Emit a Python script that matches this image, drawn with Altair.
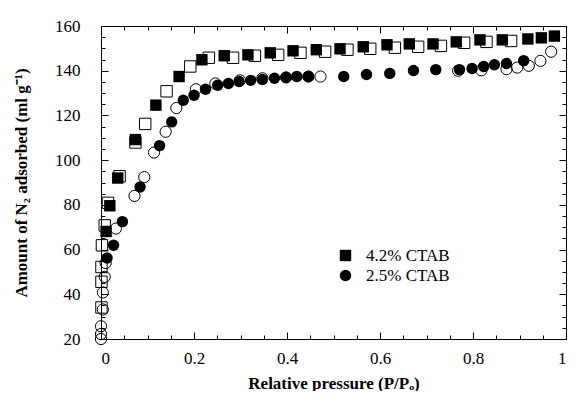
import altair as alt
import pandas as pd

# ---- data ----
sample_names = ["4.2% CTAB", "2.5% CTAB"]

# 4.2% CTAB, adsorption (filled squares)
ads42_p = [0.011, 0.019, 0.036, 0.074, 0.118, 0.168, 0.217, 0.265, 0.316, 0.364, 0.413,
           0.463, 0.514, 0.564, 0.615, 0.663, 0.714, 0.764, 0.815, 0.863, 0.918, 0.947, 0.975]
ads42_v = [68.1, 79.6, 92.0, 109.2, 124.6, 137.4, 144.9, 146.7, 147.1, 148.0, 148.9,
           149.4, 149.8, 150.7, 151.6, 152.0, 152.0, 152.9, 153.8, 153.8, 154.2, 154.7, 155.5]

# 4.2% CTAB, desorption (open squares)
des42_p = [0.001, 0.001, 0.001, 0.002, 0.008, 0.015, 0.040, 0.074, 0.095, 0.141, 0.192,
           0.232, 0.284, 0.331, 0.381, 0.429, 0.482, 0.530, 0.579, 0.632, 0.682, 0.731,
           0.781, 0.829, 0.882]
des42_v = [34.1, 45.6, 52.2, 61.9, 70.8, 80.9, 92.8, 107.9, 116.2, 130.8, 141.9,
           145.8, 145.8, 146.7, 147.1, 148.0, 148.5, 149.4, 149.8, 150.3, 150.7, 151.1,
           152.5, 152.9, 153.3]

# 2.5% CTAB, adsorption (filled circles)
ads25_p = [0.013, 0.027, 0.046, 0.084, 0.126, 0.152, 0.177, 0.200, 0.225, 0.251, 0.274,
           0.297, 0.322, 0.347, 0.373, 0.398, 0.421, 0.446, 0.522, 0.571, 0.621, 0.672,
           0.720, 0.771, 0.798, 0.823, 0.846, 0.872, 0.909]
ads25_v = [56.2, 61.9, 72.5, 88.0, 106.5, 117.1, 126.8, 129.0, 131.7, 133.5, 134.3,
           135.2, 135.7, 136.1, 136.6, 137.0, 137.4, 137.4, 137.4, 138.3, 138.8, 140.1,
           140.5, 140.5, 141.0, 141.9, 142.7, 143.2, 144.5]

# 2.5% CTAB, desorption (open circles)
des25_p = [0.000, 0.000, 0.000, 0.004, 0.004, 0.008, 0.010, 0.032, 0.072, 0.093, 0.114,
           0.139, 0.162, 0.204, 0.246, 0.299, 0.347, 0.398, 0.446, 0.472, 0.768, 0.818,
           0.872, 0.895, 0.920, 0.945, 0.968]
des25_v = [20.0, 22.2, 25.7, 33.2, 40.8, 47.8, 54.0, 69.4, 84.0, 92.4, 103.4,
           112.7, 123.3, 131.7, 134.3, 135.7, 136.6, 137.0, 137.4, 137.4, 140.0, 140.2,
           140.7, 141.4, 142.2, 144.4, 148.5]

x_major = [0, 0.2, 0.4, 0.6, 0.8, 1.0]
x_minor = [0, 0.05, 0.1, 0.15, 0.2, 0.25, 0.3, 0.35, 0.4, 0.45, 0.5, 0.55, 0.6, 0.65,
           0.7, 0.75, 0.8, 0.85, 0.9, 0.95, 1.0]
y_major = [20, 40, 60, 80, 100, 120, 140, 160]
y_minor = [20, 25, 30, 35, 40, 45, 50, 55, 60, 65, 70, 75, 80, 85, 90, 95, 100, 105,
           110, 115, 120, 125, 130, 135, 140, 145, 150, 155, 160]

rows = []
for s, br, xs, ys in [
    (sample_names[0], "ads", ads42_p, ads42_v),
    (sample_names[0], "des", des42_p, des42_v),
    (sample_names[1], "ads", ads25_p, ads25_v),
    (sample_names[1], "des", des25_p, des25_v),
]:
    for a, b in zip(xs, ys):
        rows.append({"sample": s, "branch": br, "p": a, "v": b})
df = pd.DataFrame(rows)

FONT = "Liberation Serif"
xscale = alt.Scale(domain=[0, 1], nice=False, zero=False)
yscale = alt.Scale(domain=[20, 160], nice=False, zero=False)


def ax(orient, values, size, labels=False, title=None, **kw):
    return alt.Axis(orient=orient, values=values, tickSize={"expr": str(-size)},
                    labels=labels, title=title, domain=False, grid=False,
                    tickColor="#000000", tickWidth=1, **kw)


base = alt.Chart(df)

x_main = alt.X("p:Q", scale=xscale, axis=ax(
    "bottom", x_major, 7, labels=True, title="Relative pressure (P/Pₒ)",
    format="~g", labelFont=FONT, labelFontSize=17, labelColor="#000000",
    labelPadding=18, titleFont=FONT, titleFontSize=17, titleFontWeight="bold",
    titleColor="#000000", titlePadding=9))
y_main = alt.Y("v:Q", scale=yscale, axis=ax(
    "left", y_major, 7, labels=True, title="Amount of N₂ adsorbed (ml g⁻¹)",
    format="d", labelFont=FONT, labelFontSize=17, labelColor="#000000",
    labelPadding=28, titleFont=FONT, titleFontSize=17, titleFontWeight="bold",
    titleColor="#000000", titlePadding=24))

open_sq = base.transform_filter(
    (alt.datum.sample == sample_names[0]) & (alt.datum.branch == "des")
).mark_point(shape="square", filled=False, color="#000000", strokeWidth=1,
             size=130, opacity=1).encode(x=x_main, y=y_main)

open_ci = base.transform_filter(
    (alt.datum.sample == sample_names[1]) & (alt.datum.branch == "des")
).mark_point(shape="circle", filled=False, color="#000000", strokeWidth=1,
             size=125, opacity=1).encode(
    x=alt.X("p:Q", scale=xscale, axis=ax("bottom", x_minor, 4)),
    y=alt.Y("v:Q", scale=yscale, axis=ax("left", y_minor, 4)))

filled = base.transform_filter(alt.datum.branch == "ads").mark_point(
    filled=True, color="#000000", size=130, opacity=1).encode(
    x=alt.X("p:Q", scale=xscale, axis=ax("top", x_major, 7)),
    y=alt.Y("v:Q", scale=yscale, axis=ax("right", y_major, 7)),
    shape=alt.Shape("sample:N", scale=alt.Scale(domain=sample_names,
                                                range=["square", "circle"]),
                    legend=alt.Legend(orient="none", legendX=236, legendY=221,
                                      title=None, labelFont=FONT, labelFontSize=17,
                                      labelColor="#000000", symbolSize=130,
                                      symbolFillColor="#000000",
                                      symbolOpacity=1, labelOffset=12, rowPadding=1)))

ghost = base.mark_point(opacity=0).encode(
    x=alt.X("p:Q", scale=xscale, axis=ax("top", x_minor, 4)),
    y=alt.Y("v:Q", scale=yscale, axis=ax("right", y_minor, 4)))

chart = alt.layer(open_sq, open_ci, filled, ghost).resolve_axis(
    x="independent", y="independent"
).properties(
    width=465, height=313,
    padding={"left": 4, "top": 9, "right": 2, "bottom": 0},
).configure_view(stroke="#000000", strokeWidth=1)

chart.save("out.html", embed_options={"renderer": "svg", "actions": False})
